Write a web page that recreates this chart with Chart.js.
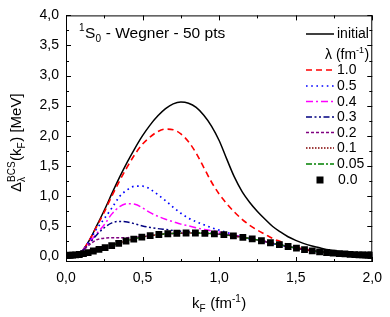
<!DOCTYPE html>
<html>
<head>
<meta charset="utf-8">
<script src="https://cdn.jsdelivr.net/npm/chart.js@4.4.1/dist/chart.umd.min.js"></script>
<style>
  html, body { margin: 0; padding: 0; background: #fff; }
  #wrap { width: 390px; height: 317px; }
</style>
</head>
<body>
<div id="wrap"><canvas id="c" width="390" height="317"></canvas></div>
<script>
// k_F grid (fm^-1) for the curves
const kGrid = [0.00, 0.05, 0.10, 0.15, 0.20, 0.25, 0.30, 0.35, 0.40, 0.45,
  0.50, 0.55, 0.60, 0.65, 0.70, 0.75, 0.80, 0.85, 0.90, 0.95,
  1.00, 1.05, 1.10, 1.15, 1.20, 1.25, 1.30, 1.35, 1.40, 1.45,
  1.50, 1.55, 1.60, 1.65, 1.70, 1.75, 1.80, 1.85, 1.90, 1.95, 2.00];

const initial = [0.02, 0.03, 0.07, 0.25, 0.50, 0.76, 1.04, 1.31, 1.56, 1.79,
  2.00, 2.18, 2.33, 2.45, 2.53, 2.56, 2.54, 2.47, 2.34, 2.16,
  1.92, 1.61, 1.31, 1.07, 0.89, 0.74, 0.61, 0.49, 0.40, 0.32,
  0.26, 0.21, 0.17, 0.14, 0.11, 0.09, 0.07, 0.055, 0.04, 0.03, 0.02];

const lam10 = [0.02, 0.03, 0.07, 0.25, 0.49, 0.73, 1.00, 1.25, 1.48, 1.69,
  1.86, 1.98, 2.07, 2.11, 2.10, 2.03, 1.90, 1.71, 1.47, 1.23,
  1.03, 0.87, 0.73, 0.61, 0.51, 0.43, 0.36, 0.29, 0.24, 0.19,
  0.15, 0.12, 0.095, 0.075, 0.06, 0.05, 0.04, 0.03, 0.025, 0.02, 0.015];

const lam05 = [0.02, 0.03, 0.07, 0.24, 0.45, 0.62, 0.80, 0.99, 1.10, 1.16,
  1.16, 1.11, 1.02, 0.92, 0.81, 0.71, 0.63, 0.57, 0.52, 0.47,
  0.43, 0.39, 0.35, 0.31, 0.285, 0.26, 0.235, 0.205, 0.18, 0.155,
  0.13, 0.107, 0.088, 0.072, 0.058, 0.047, 0.037, 0.029, 0.022, 0.016, 0.012];

const lam04 = [0.02, 0.03, 0.07, 0.22, 0.37, 0.52, 0.70, 0.82, 0.87, 0.86,
  0.80, 0.72, 0.66, 0.61, 0.57, 0.53, 0.50, 0.47, 0.44, 0.42,
  0.40, 0.37, 0.345, 0.315, 0.29, 0.266, 0.24, 0.212, 0.185, 0.158,
  0.132, 0.108, 0.088, 0.072, 0.058, 0.047, 0.037, 0.029, 0.022, 0.016, 0.012];

const lam03 = [0.02, 0.03, 0.07, 0.20, 0.35, 0.47, 0.55, 0.575, 0.565, 0.535,
  0.50, 0.475, 0.455, 0.44, 0.425, 0.41, 0.40, 0.39, 0.383, 0.375,
  0.365, 0.35, 0.333, 0.312, 0.29, 0.266, 0.24, 0.212, 0.185, 0.158,
  0.132, 0.108, 0.088, 0.072, 0.058, 0.047, 0.037, 0.029, 0.022, 0.016, 0.012];

const lam02 = [0.02, 0.03, 0.07, 0.18, 0.27, 0.295, 0.303, 0.303, 0.305, 0.31,
  0.32, 0.338, 0.355, 0.367, 0.375, 0.38, 0.382, 0.382, 0.378, 0.372,
  0.362, 0.348, 0.332, 0.312, 0.29, 0.266, 0.24, 0.212, 0.185, 0.158,
  0.132, 0.108, 0.088, 0.072, 0.058, 0.047, 0.037, 0.029, 0.022, 0.016, 0.012];

const lam01 = [0.015, 0.02, 0.045, 0.09, 0.13, 0.16, 0.19, 0.222, 0.255, 0.285,
  0.315, 0.338, 0.355, 0.367, 0.375, 0.38, 0.382, 0.382, 0.378, 0.372,
  0.362, 0.348, 0.332, 0.312, 0.29, 0.266, 0.24, 0.212, 0.185, 0.158,
  0.132, 0.108, 0.088, 0.072, 0.058, 0.047, 0.037, 0.029, 0.022, 0.016, 0.012];

const lam005 = [0.01, 0.015, 0.03, 0.06, 0.10, 0.135, 0.175, 0.215, 0.255, 0.285,
  0.315, 0.338, 0.355, 0.367, 0.375, 0.38, 0.382, 0.382, 0.378, 0.372,
  0.362, 0.348, 0.332, 0.312, 0.29, 0.266, 0.24, 0.212, 0.185, 0.158,
  0.132, 0.108, 0.088, 0.072, 0.058, 0.047, 0.037, 0.029, 0.022, 0.016, 0.012];

// 50-point mesh for lambda = 0.0 (squares)
const kMesh = [0.0011, 0.0059, 0.0146, 0.0271, 0.0433, 0.0633, 0.0869, 0.1140, 0.1446, 0.1784,
  0.2154, 0.2554, 0.2984, 0.3440, 0.3920, 0.4424, 0.4951, 0.5497, 0.6065, 0.6650,
  0.7238, 0.7840, 0.8450, 0.9068, 0.9689, 1.0311, 1.0932, 1.1550, 1.2160, 1.2762,
  1.3350, 1.3935, 1.4503, 1.5049, 1.5576, 1.6080, 1.6560, 1.7016, 1.7446, 1.7846,
  1.8216, 1.8554, 1.8860, 1.9131, 1.9367, 1.9567, 1.9729, 1.9854, 1.9941, 1.9989];
const lam00 = [0.01, 0.01, 0.011, 0.012, 0.014, 0.018, 0.025, 0.038, 0.057, 0.083,
  0.11, 0.139, 0.174, 0.21, 0.249, 0.281, 0.312, 0.338, 0.357, 0.37,
  0.378, 0.382, 0.382, 0.377, 0.369, 0.354, 0.334, 0.31, 0.283, 0.253,
  0.22, 0.189, 0.158, 0.13, 0.105, 0.085, 0.07, 0.058, 0.048, 0.04,
  0.034, 0.028, 0.024, 0.02, 0.018, 0.016, 0.014, 0.013, 0.012, 0.012];

const xTicks = [0, 0.5, 1.0, 1.5, 2.0];
const xMinor = [0.25, 0.75, 1.25, 1.75];
const yTicks = [0, 0.5, 1.0, 1.5, 2.0, 2.5, 3.0, 3.5, 4.0];
const yMinor = [0.25, 0.75, 1.25, 1.75, 2.25, 2.75, 3.25, 3.75];

const FONT = '"Liberation Sans", Arial, sans-serif';

function fmt(v) { return v.toFixed(1).replace('.', ','); }

// draws text with sub/superscripts, returns end x
function rich(ctx, x, y, parts, size, draw) {
  let cx = x;
  parts.forEach(p => {
    if (typeof p === 'string') {
      ctx.font = size + 'px ' + FONT;
      if (draw) ctx.fillText(p, cx, y);
      cx += ctx.measureText(p).width;
    } else {
      const s = Math.round(size * 0.65);
      ctx.font = s + 'px ' + FONT;
      let w = 0;
      if (p.sup) { if (draw) ctx.fillText(p.sup, cx, y - size * 0.42); w = Math.max(w, ctx.measureText(p.sup).width); }
      if (p.sub) { if (draw) ctx.fillText(p.sub, cx, y + size * 0.28); w = Math.max(w, ctx.measureText(p.sub).width); }
      cx += w + 0.5;
    }
  });
  return cx;
}

const curves = [
  ['initial', initial, '#000000', [], 1.5],
  ['1.0', lam10, '#ff0000', [6, 4], 1.6],
  ['0.5', lam05, '#0000ff', [1.6, 3.6], 1.7],
  ['0.4', lam04, '#ff00ff', [7, 3, 2, 3], 1.5],
  ['0.3', lam03, '#000080', [6, 2.5, 2, 2.5, 2, 2.5], 1.5],
  ['0.2', lam02, '#800080', [3, 2], 1.5],
  ['0.1', lam01, '#800000', [1.5, 1.5], 1.5],
  ['0.05', lam005, '#008000', [6, 2, 2, 2], 1.3],
];

const datasets = curves.map((c, i) => ({
  label: c[0],
  data: kGrid.map((k, j) => ({ x: k, y: c[1][j] })),
  borderColor: c[2],
  borderDash: c[3],
  borderWidth: c[4],
  pointRadius: 0,
  fill: false,
  cubicInterpolationMode: 'monotone',
  order: 10 - i,
}));
datasets.push({
  label: '0.0',
  data: kMesh.map((k, j) => ({ x: k, y: lam00[j] })),
  showLine: false,
  pointStyle: 'rect',
  pointRadius: 4.8,
  pointBackgroundColor: '#000',
  pointBorderWidth: 0,
  order: 0,
});

const decor = {
  id: 'decor',
  afterDraw(chart) {
    const ctx = chart.ctx;
    const xs = chart.scales.x, ys = chart.scales.y;
    const { left, right, top, bottom } = chart.chartArea;
    ctx.save();
    ctx.strokeStyle = '#000';
    ctx.fillStyle = '#000';
    ctx.lineWidth = 1;
    ctx.setLineDash([]);
    ctx.strokeRect(left + 0.5, top + 0.5, right - left - 1, bottom - top - 1);

    // inward ticks on all four sides
    ctx.beginPath();
    xTicks.concat(xMinor).forEach(v => {
      const len = xTicks.includes(v) ? 5 : 3;
      const px = Math.round(xs.getPixelForValue(v)) + 0.5;
      ctx.moveTo(px, bottom); ctx.lineTo(px, bottom - len);
      ctx.moveTo(px, top); ctx.lineTo(px, top + len);
    });
    yTicks.concat(yMinor).forEach(v => {
      const len = yTicks.includes(v) ? 5 : 3;
      const py = Math.round(ys.getPixelForValue(v)) + 0.5;
      ctx.moveTo(left, py); ctx.lineTo(left + len, py);
      ctx.moveTo(right, py); ctx.lineTo(right - len, py);
    });
    ctx.stroke();

    ctx.textAlign = 'left';
    ctx.textBaseline = 'alphabetic';

    // panel title
    rich(ctx, 79, 38, [{ sup: '1' }, 'S', { sub: '0' }, ' - Wegner - 50 pts'], 15.5, true);

    // x axis title
    const xParts = ['k', { sub: 'F' }, ' (fm', { sup: '-1' }, ')'];
    const xw = rich(ctx, 0, 0, xParts, 15, false);
    rich(ctx, (left + right) / 2 - xw / 2, 308, xParts, 15, true);

    // y axis title
    const yParts = ['\u0394', { sub: '\u03bb', sup: 'BCS' }, '(k', { sub: 'F' }, ') [MeV]'];
    const yw = rich(ctx, 0, 0, yParts, 15, false);
    ctx.save();
    ctx.translate(21, (top + bottom) / 2 + 4 + yw / 2);
    ctx.rotate(-Math.PI / 2);
    rich(ctx, 0, 0, yParts, 15, true);
    ctx.restore();

    // legend
    const rowsY = [34, 70, 86, 101.5, 117, 132.5, 148, 164, 180];
    const x0 = 306, x1 = 334, tx = 337;
    curves.forEach((c, i) => {
      const yy = rowsY[i];
      ctx.beginPath();
      ctx.strokeStyle = c[2];
      ctx.lineWidth = c[4];
      ctx.setLineDash(c[3]);
      ctx.moveTo(x0, yy); ctx.lineTo(x1, yy);
      ctx.stroke();
      ctx.setLineDash([]);
      ctx.font = '14px ' + FONT;
      ctx.textBaseline = 'middle';
      ctx.fillText(c[0], tx, yy + 0.5);
      ctx.textBaseline = 'alphabetic';
    });
    ctx.fillRect(320 - 3.5, rowsY[8] - 3.5, 7, 7);
    ctx.font = '14px ' + FONT;
    ctx.textBaseline = 'middle';
    ctx.fillText('0.0', tx + 1, rowsY[8] + 0.5);
    ctx.textBaseline = 'alphabetic';
    rich(ctx, 325, 58.5, ['\u03bb (fm', { sup: '-1' }, ')'], 14, true);
    ctx.restore();
  }
};

new Chart(document.getElementById('c').getContext('2d'), {
  type: 'line',
  data: { datasets },
  options: {
    responsive: false,
    animation: false,
    devicePixelRatio: 1,
    layout: { padding: { top: 12, right: 12, left: 0, bottom: 0 } },
    plugins: { legend: { display: false }, tooltip: { enabled: false } },
    scales: {
      x: {
        type: 'linear',
        min: 0, max: 2,
        afterBuildTicks: s => { s.ticks = xTicks.map(v => ({ value: v })); },
        afterFit: s => { s.height = 55; },
        grid: { display: false, drawTicks: false },
        border: { display: false },
        ticks: { padding: 8, color: '#000', font: { family: FONT, size: 14 }, callback: v => fmt(v), maxRotation: 0 },
      },
      y: {
        type: 'linear',
        min: -0.1, max: 4.0,
        afterBuildTicks: s => { s.ticks = yTicks.map(v => ({ value: v })); },
        afterFit: s => { s.width = 66; },
        grid: { display: false, drawTicks: false },
        border: { display: false },
        ticks: { padding: 7, color: '#000', font: { family: FONT, size: 14 }, callback: v => fmt(v) },
      },
    },
  },
  plugins: [decor],
});
</script>
</body>
</html>
